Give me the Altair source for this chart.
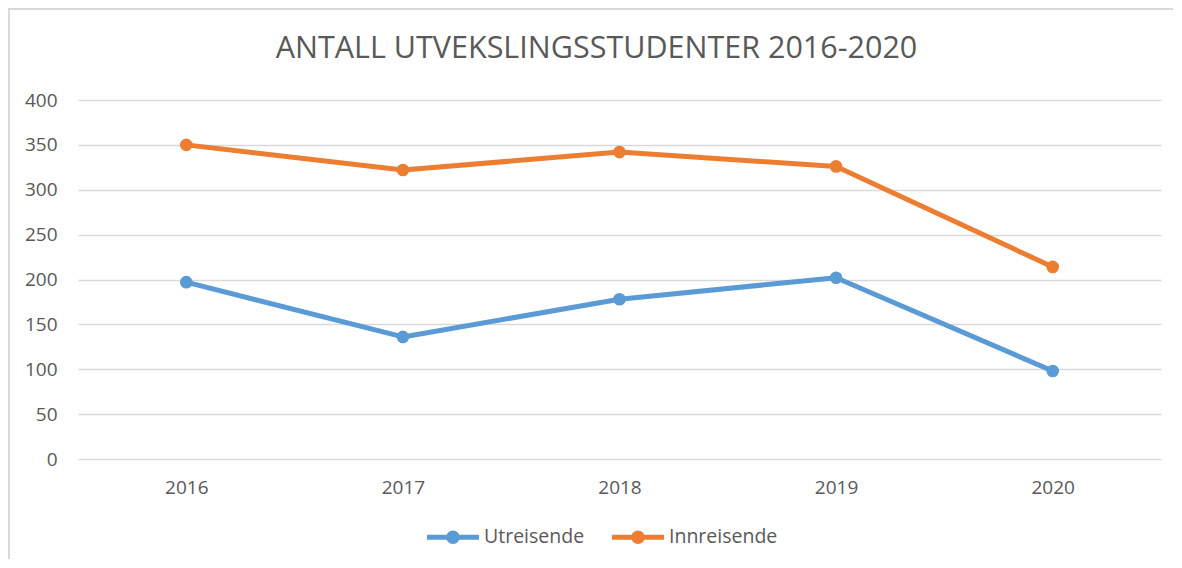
import altair as alt
import pandas as pd

years = ["2016", "2017", "2018", "2019", "2020"]
utreisende = [197, 136, 178, 202, 98]
innreisende = [350, 322, 342, 326, 214]
series_names = ["Utreisende", "Innreisende"]
series_colors = ["#5B9BD5", "#ED7D31"]
y_ticks = [0, 50, 100, 150, 200, 250, 300, 350, 400]
title_text = "ANTALL UTVEKSLINGSSTUDENTER 2016-2020"

rows = []
for yr, u, i in zip(years, utreisende, innreisende):
    rows.append({"year": yr, "serie": series_names[0], "value": u})
    rows.append({"year": yr, "serie": series_names[1], "value": i})
df = pd.DataFrame(rows)

FONT = "Open Sans"
TXT = "#595959"

x_enc = alt.X(
    "year:O",
    sort=years,
    scale=alt.Scale(type="point", padding=0.5),
    axis=alt.Axis(title=None, labelAngle=0, ticks=False, domain=False, grid=False,
                  labelPadding=19, labelFontSize=19, labelColor=TXT, labelFont=FONT),
)
y_enc = alt.Y(
    "value:Q",
    scale=alt.Scale(domain=[0, 400], nice=False),
    axis=alt.Axis(title=None, values=y_ticks, ticks=False, domain=False, grid=True,
                  gridColor="#D9D9D9", gridWidth=1.5, labelPadding=21,
                  labelFontSize=19, labelColor=TXT, labelFont=FONT),
)
color_scale = alt.Scale(domain=series_names, range=series_colors)

legend_symbol = ("M-1,-0.096L1,-0.096L1,0.096L-1,0.096Z "
                 "M0.26,0A0.26,0.26 0 1,1 -0.26,0A0.26,0.26 0 1,1 0.26,0Z")

base = alt.Chart(df)

points = base.mark_point(filled=True, size=160, opacity=1).encode(
    x=x_enc,
    y=y_enc,
    color=alt.Color(
        "serie:N",
        scale=color_scale,
        sort=series_names,
        legend=alt.Legend(
            title=None, orient="none", direction="horizontal",
            legendX=349, legendY=411,
            symbolType=legend_symbol, symbolSize=2704, symbolStrokeWidth=0,
            symbolOpacity=1, labelFontSize=19.5, labelColor=TXT, labelFont=FONT,
            labelOffset=5, columnPadding=27,
        ),
    ),
)

lines = base.mark_line(strokeWidth=5, strokeCap="round", strokeJoin="round").encode(
    x=x_enc,
    y=y_enc,
    color=alt.Color("serie:N", scale=color_scale, sort=series_names, legend=None),
    detail="serie:N",
)

title_df = pd.DataFrame({"t": [title_text]})
title_mark = alt.Chart(title_df).mark_text(
    font=FONT, fontSize=30.5, color=TXT, align="center", baseline="alphabetic"
).encode(x=alt.value(518.5), y=alt.value(-42), text="t:N")

frame_top = alt.Chart(title_df).mark_rule(color="#D9D9D9", strokeWidth=2).encode(
    x=alt.value(-70), x2=alt.value(1120), y=alt.value(-91)
)
frame_left = alt.Chart(title_df).mark_rule(color="#D9D9D9", strokeWidth=2).encode(
    x=alt.value(-69), y=alt.value(-92), y2=alt.value(480)
)

chart = alt.layer(points, lines, title_mark, frame_top, frame_left).properties(
    width=1083,
    height=359,
    padding={"left": 70, "top": 92, "right": 12, "bottom": 100},
    autosize=alt.AutoSizeParams(type="none"),
).configure_view(stroke=None)

chart.save("out.html", embed_options={"renderer": "svg", "actions": False})
